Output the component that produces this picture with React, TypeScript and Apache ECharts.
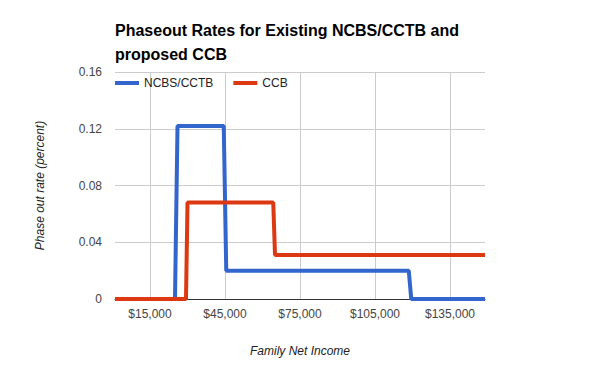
import React, { useEffect, useRef } from "react";
import * as echarts from "echarts";

const titleText = "Phaseout Rates for Existing NCBS/CCTB and\nproposed CCB";
const seriesNames = ["NCBS/CCTB", "CCB"];
const xTickValues = [15000, 45000, 75000, 105000, 135000];
const ncbsIncome = [1000, 25000, 26000, 44500, 45500, 118500, 119500, 149000];
const ncbsRate = [0, 0, 0.122, 0.122, 0.02, 0.02, 0, 0];
const ccbIncome = [1000, 29400, 30000, 64300, 65000, 149000];
const ccbRate = [0, 0, 0.068, 0.068, 0.031, 0.031];

const FONT = "Arial, 'Liberation Sans', sans-serif";

function fmtMoney(v: number): string {
  return "$" + v.toString().replace(/\B(?=(\d{3})+(?!\d))/g, ",");
}

export default function App() {
  const ref = useRef<HTMLDivElement>(null);
  useEffect(() => {
    if (!ref.current) return;
    const chart = echarts.init(ref.current, null, { renderer: "svg" });
    chart.setOption({
      animation: false,
      textStyle: { fontFamily: FONT },
      title: {
        text: titleText,
        left: 115,
        top: 18,
        padding: 0,
        textStyle: { fontFamily: FONT, fontSize: 16, fontWeight: "bold", color: "#000", lineHeight: 24 },
      },
      legend: {
        left: 115,
        top: 77,
        padding: 0,
        itemGap: 20,
        itemWidth: 24,
        itemHeight: 4,
        icon: "rect",
        textStyle: { fontFamily: FONT, fontSize: 12, color: "#222" },
        data: seriesNames,
      },
      grid: { left: 115, top: 72, width: 370, height: 227, containLabel: false },
      xAxis: {
        type: "value",
        min: 1000,
        max: 149000,
        name: "Family Net Income",
        nameLocation: "middle",
        nameGap: 46,
        nameTextStyle: { fontFamily: FONT, fontSize: 12, fontStyle: "italic", color: "#222" },
        axisLine: { show: true, lineStyle: { color: "#333", width: 1 } },
        axisTick: { show: false, customValues: xTickValues },
        axisLabel: {
          customValues: xTickValues,
          formatter: (v: number) => fmtMoney(v),
          fontFamily: FONT,
          fontSize: 12,
          color: "#444",
          margin: 9,
        },
        splitLine: { show: true, lineStyle: { color: "#ccc", width: 1 } },
      },
      yAxis: {
        type: "value",
        min: 0,
        max: 0.16,
        interval: 0.04,
        name: "Phase out rate (percent)",
        nameLocation: "middle",
        nameGap: 69,
        nameRotate: 90,
        nameTextStyle: { fontFamily: FONT, fontSize: 12, fontStyle: "italic", color: "#222" },
        axisLine: { show: false },
        axisTick: { show: false },
        axisLabel: {
          formatter: (v: number) => (v === 0 ? "0" : v.toFixed(2)),
          fontFamily: FONT,
          fontSize: 12,
          color: "#444",
          margin: 13,
        },
        splitLine: { show: true, lineStyle: { color: "#ccc", width: 1 } },
      },
      series: [
        {
          name: seriesNames[0],
          type: "line",
          symbol: "none",
          color: "#3366cc",
          lineStyle: { width: 4, color: "#3366cc" },
          data: ncbsIncome.map((x, i) => [x, ncbsRate[i]]),
        },
        {
          name: seriesNames[1],
          type: "line",
          symbol: "none",
          color: "#dc3912",
          lineStyle: { width: 4, color: "#dc3912" },
          data: ccbIncome.map((x, i) => [x, ccbRate[i]]),
        },
      ],
    });
    return () => chart.dispose();
  }, []);
  return (
    <div
      ref={ref}
      style={{ position: "fixed", left: 0, top: 0, width: 600, height: 371, background: "#fff" }}
    />
  );
}
